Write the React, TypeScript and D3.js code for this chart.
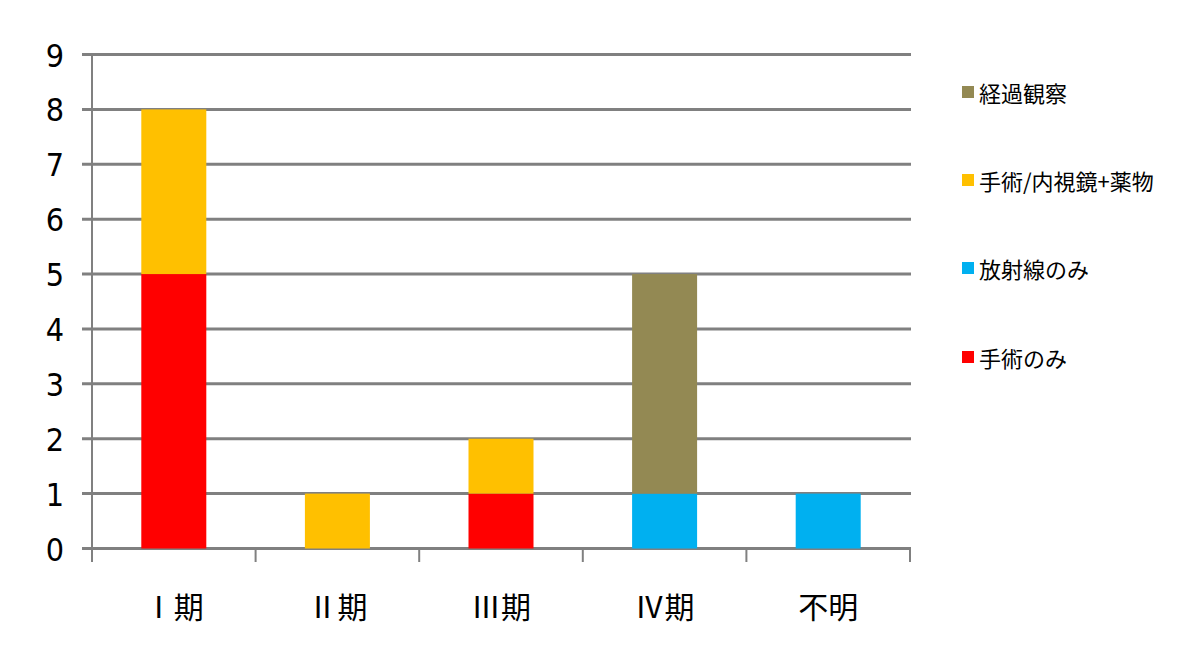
import React from "react";
import * as d3 from "d3";

const categories = ["Ⅰ期", "Ⅱ期", "Ⅲ期", "Ⅳ期", "不明"];
const seriesNames = ["手術のみ", "放射線のみ", "手術/内視鏡+薬物", "経過観察"];
const surgeryOnly = [5, 0, 1, 0, 0];
const radiationOnly = [0, 0, 0, 1, 1];
const surgeryDrug = [3, 1, 1, 0, 0];
const observation = [0, 0, 0, 4, 0];
const seriesColors = ["#FF0000", "#00B0F0", "#FFC000", "#938953"];
const yTicks = [0, 1, 2, 3, 4, 5, 6, 7, 8, 9];

const W = 1200;
const H = 666;
const left = 92;
const right = 910;
const top = 54.5;
const bottom = 548.5;

export default function App() {
  const x = d3.scaleBand<string>().domain(categories).range([left, right]).paddingInner(0).paddingOuter(0);
  const y = d3.scaleLinear().domain([0, 9]).range([bottom, top]);
  const rows = categories.map((c, i) => ({
    cat: c,
    [seriesNames[0]]: surgeryOnly[i],
    [seriesNames[1]]: radiationOnly[i],
    [seriesNames[2]]: surgeryDrug[i],
    [seriesNames[3]]: observation[i],
  }));
  const stack = d3.stack<any>().keys(seriesNames)(rows);
  const barW = 65;
  const legendOrder = [3, 2, 1, 0];
  const legendY = [92, 180, 268, 357];
  const boundaries = d3.range(categories.length + 1).map((i) => left + i * x.bandwidth());

  return (
    <svg width={W} height={H} style={{ position: "absolute", left: 0, top: 0, background: "#fff" }}>
      <rect x={0} y={0} width={W} height={H} fill="#fff" />
      {yTicks.map((t) => (
        <line key={"g" + t} x1={82} x2={911} y1={y(t)} y2={y(t)} stroke="#808080" strokeWidth={3} />
      ))}
      <line x1={left} x2={left} y1={top} y2={562} stroke="#808080" strokeWidth={2} />
      {boundaries.slice(1).map((bx, i) => (
        <line key={"tk" + i} x1={bx} x2={bx} y1={bottom} y2={562} stroke="#808080" strokeWidth={2} />
      ))}
      {stack.map((layer, si) =>
        layer.map((d, ci) =>
          d[1] - d[0] > 0 ? (
            <rect
              key={si + "-" + ci}
              x={(x(categories[ci]) as number) + x.bandwidth() / 2 - barW / 2}
              y={y(d[1])}
              width={barW}
              height={y(d[0]) - y(d[1])}
              fill={seriesColors[si]}
            />
          ) : null
        )
      )}
      {yTicks.map((t) => (
        <text
          key={"yl" + t}
          x={64}
          y={y(t) + 1}
          textAnchor="end"
          dominantBaseline="central"
          fontFamily="'Liberation Sans Narrow', 'DejaVu Sans Condensed', 'Liberation Sans', sans-serif"
          fontSize={32}
          fill="#000"
        >
          {t}
        </text>
      ))}
      {categories.map((c) => (
        <text
          key={"xl" + c}
          x={(x(c) as number) + x.bandwidth() / 2}
          y={605}
          textAnchor="middle"
          dominantBaseline="central"
          fontFamily="'Noto Sans CJK JP', sans-serif"
          fontSize={30}
          fill="#000"
        >
          {c}
        </text>
      ))}
      {legendOrder.map((si, k) => (
        <g key={"lg" + si}>
          <rect x={962} y={legendY[k] - 6} width={12} height={12} fill={seriesColors[si]} />
          <text
            x={979}
            y={legendY[k]}
            dominantBaseline="central"
            fontFamily="'Noto Sans CJK JP', sans-serif"
            fontSize={22}
            fill="#000"
          >
            {seriesNames[si]}
          </text>
        </g>
      ))}
    </svg>
  );
}
